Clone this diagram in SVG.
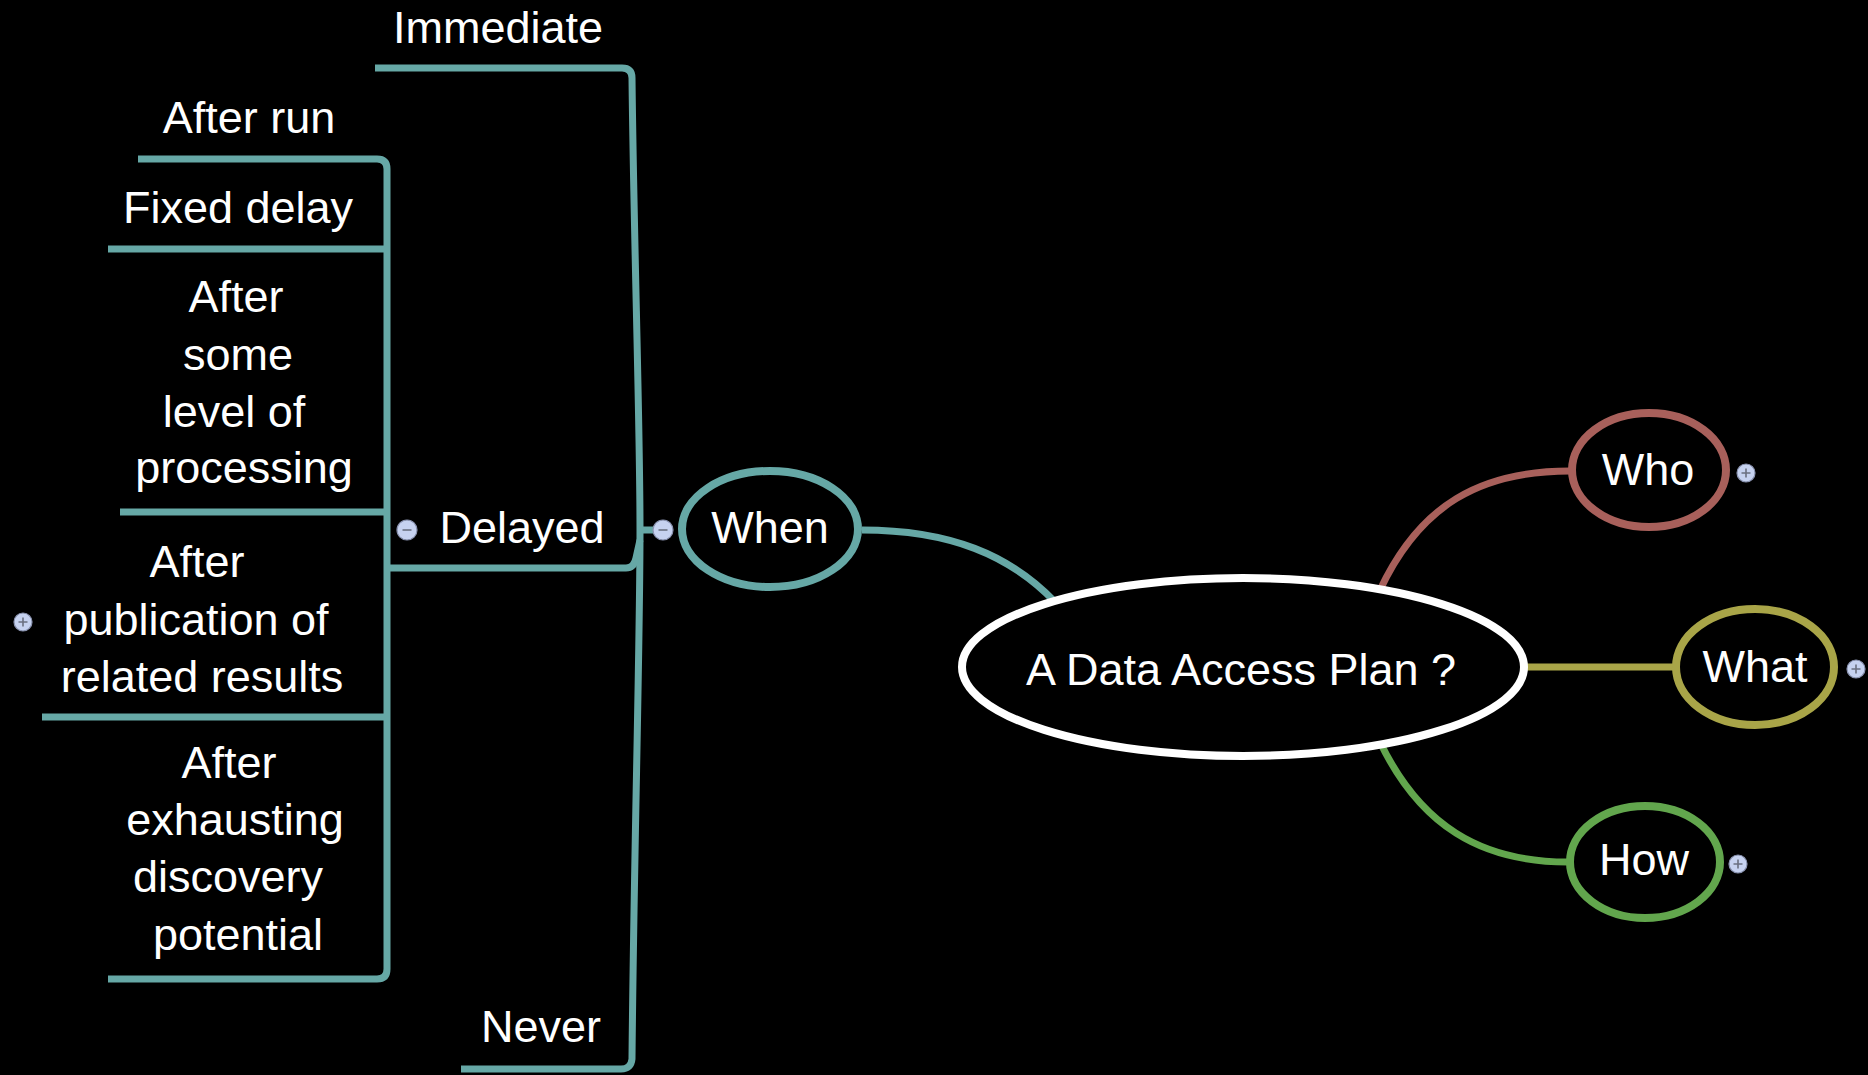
<svg xmlns="http://www.w3.org/2000/svg" width="1868" height="1075" viewBox="0 0 1868 1075">
<style>
text{font-family:"Liberation Sans",Arial,sans-serif;font-size:45px;fill:#ffffff;text-anchor:middle}
.teal{fill:none;stroke:#66a8a6;stroke-width:7;stroke-linecap:butt;stroke-linejoin:round}
.node{fill:#000000;stroke-width:8}
.btn{fill:#c6d2f0;stroke:#8a93b0;stroke-width:1.2}
.sign{stroke:#6a7080;stroke-width:1.6;fill:none}
</style>
<defs>
<g id="plus"><circle class="btn" cx="0" cy="0" r="9"/><path class="sign" d="M-4.5 0H4.5M0 -4.5V4.5"/></g>
<g id="minus"><circle class="btn" cx="0" cy="0" r="10"/><path class="sign" d="M-4.5 0H4.5"/></g>
</defs>
<rect x="0" y="0" width="1868" height="1075" fill="#000000"/>

<g id="connectors">
<path class="teal" d="M375 68H622Q632 68 632 78C634 250 640 420 640 530C640 650 634 850 632 1059Q631 1069 621 1069H461"/>
<path class="teal" d="M387 568H626Q634 568 636 558L640 540"/>
<path class="teal" d="M640 530H656"/>
<path class="teal" d="M138 159H377Q387 159 387 169V969Q387 979 377 979H108"/>
<path class="teal" d="M108 249H387"/>
<path class="teal" d="M120 512H387"/>
<path class="teal" d="M42 717H387"/>
<path class="teal" d="M862 530C950 530 1010 555 1055 602"/>
<path fill="none" stroke="#a8605b" stroke-width="7" d="M1380 590C1420 505 1480 471 1570 471"/>
<path fill="none" stroke="#a9a548" stroke-width="7" d="M1525 667H1675"/>
<path fill="none" stroke="#62a64d" stroke-width="7" d="M1380 742C1420 825 1480 862 1568 862"/>
</g>

<g id="immediate"><text x="498" y="43">Immediate</text></g>
<g id="after-run"><text x="249" y="133">After run</text></g>
<g id="fixed-delay"><text x="238" y="223">Fixed delay</text></g>
<g id="after-processing">
<text x="236" y="312">After</text>
<text x="238" y="370">some</text>
<text x="234" y="427">level of</text>
<text x="244" y="483">processing</text>
</g>
<g id="delayed">
<use href="#minus" x="407" y="530"/>
<text x="522" y="543">Delayed</text>
</g>
<g id="after-publication">
<use href="#plus" x="23" y="622"/>
<text x="197" y="577">After</text>
<text x="196" y="635">publication of</text>
<text x="202" y="692">related results</text>
</g>
<g id="after-exhausting">
<text x="229" y="778">After</text>
<text x="235" y="835">exhausting</text>
<text x="228" y="892">discovery</text>
<text x="238" y="950">potential</text>
</g>
<g id="never"><text x="541" y="1042">Never</text></g>

<g id="when">
<use href="#minus" x="663" y="530"/>
<ellipse class="node" cx="770" cy="529" rx="88" ry="58" stroke="#66a8a6"/>
<text x="770" y="543">When</text>
</g>

<g id="central">
<ellipse class="node" cx="1243" cy="667" rx="281" ry="89" stroke="#ffffff" stroke-width="7"/>
<text x="1241" y="685">A Data Access Plan ?</text>
</g>

<g id="who">
<ellipse class="node" cx="1649" cy="470" rx="77" ry="57" stroke="#a8605b"/>
<text x="1648" y="485">Who</text>
<use href="#plus" x="1746" y="473"/>
</g>
<g id="what">
<ellipse class="node" cx="1755" cy="667" rx="79" ry="58" stroke="#a9a548"/>
<text x="1755" y="682">What</text>
<use href="#plus" x="1856" y="669"/>
</g>
<g id="how">
<ellipse class="node" cx="1645" cy="862" rx="75" ry="56" stroke="#62a64d"/>
<text x="1644" y="875">How</text>
<use href="#plus" x="1738" y="864"/>
</g>
</svg>
